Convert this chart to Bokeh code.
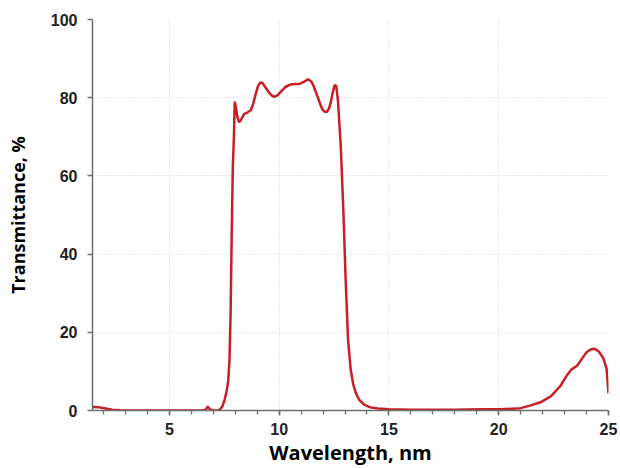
from bokeh.plotting import figure
from bokeh.models import ColumnDataSource, FixedTicker, Range1d
from bokeh.embed import file_html
from bokeh.resources import INLINE

wavelength = [1.5, 1.8, 2.1, 2.4, 2.8, 4.0, 5.5, 6.5, 6.65, 6.75,
              6.85, 7.0, 7.2, 7.31, 7.42, 7.52, 7.61, 7.68, 7.74, 7.79,
              7.84, 7.89, 7.94, 7.98, 8.03, 8.1, 8.18, 8.28, 8.4, 8.55,
              8.71, 8.82, 8.94, 9.04, 9.13, 9.22, 9.31, 9.42, 9.54, 9.66,
              9.77, 9.92, 10.07, 10.3, 10.53, 10.75, 10.91, 11.14, 11.32, 11.47,
              11.57, 11.67, 11.77, 11.86, 11.97, 12.08, 12.18, 12.27, 12.36, 12.43,
              12.53, 12.6, 12.68, 12.81, 12.93, 13.03, 13.14, 13.26, 13.37, 13.49,
              13.65, 13.87, 14.15, 14.5, 15.0, 16.0, 17.0, 18.0, 19.2, 20.1,
              21.0, 21.46, 21.9, 22.37, 22.8, 23.12, 23.3, 23.58, 23.81, 24.0,
              24.18, 24.36, 24.56, 24.76, 24.91, 25.0]
transmittance = [0.9, 0.8, 0.5, 0.2, 0.05, 0, 0, 0, 0.2, 1.0,
                 0.3, 0, 0, 0.3, 1.1, 2.8, 5.0, 7.5, 13, 25,
                 45, 62, 70, 79, 77.5, 75, 73.7, 74.5, 75.8, 76.2,
                 76.8, 78.5, 81.1, 83, 83.8, 83.9, 83.2, 82.3, 81.3, 80.6,
                 80.2, 80.6, 81.5, 82.8, 83.4, 83.5, 83.5, 84.1, 84.7, 84.1,
                 83, 81.5, 80, 78.5, 77, 76.4, 76.4, 77.2, 79, 81.1,
                 83.2, 83, 79.2, 67.3, 50.3, 33.3, 18, 10.4, 6.8, 4.5,
                 2.7, 1.5, 0.8, 0.5, 0.3, 0.2, 0.2, 0.2, 0.3, 0.3,
                 0.6, 1.3, 2.1, 3.6, 6.2, 9.1, 10.4, 11.5, 13.4, 14.9,
                 15.6, 15.8, 15.1, 13.4, 10.8, 4.4]
x_ticks = [5, 10, 15, 20, 25]
y_ticks = [0, 20, 40, 60, 80, 100]

source = ColumnDataSource(data=dict(x=wavelength, y=transmittance))

p = figure(width=620, height=468, output_backend="svg", toolbar_location=None,
           x_range=Range1d(1.5, 25), y_range=Range1d(0, 100),
           min_border_left=92, min_border_right=12, min_border_top=19,
           min_border_bottom=58)
p.outline_line_color = None
p.background_fill_color = "white"

p.line("x", "y", source=source, line_color="#c81e25", line_width=2.5)

p.xaxis.ticker = FixedTicker(ticks=x_ticks, minor_ticks=list(range(2, 26)))
p.yaxis.ticker = FixedTicker(ticks=y_ticks)

for ax in (p.xaxis[0], p.yaxis[0]):
    ax.axis_line_color = "#6e6e6e"
    ax.axis_line_width = 1.5
    ax.major_tick_line_color = "#6e6e6e"
    ax.major_tick_line_width = 1.5
    ax.major_tick_in = 0
    ax.major_tick_out = 5
    ax.major_label_text_font = "Liberation Sans"
    ax.major_label_text_font_style = "bold"
    ax.major_label_text_font_size = "16px"
    ax.major_label_text_color = "#222222"
    ax.axis_label_text_font = "Open Sans"
    ax.axis_label_text_font_style = "bold"
    ax.axis_label_text_color = "#000000"

p.xaxis.axis_label_text_font_size = "20px"
p.yaxis.axis_label_text_font_size = "18px"

p.xaxis.minor_tick_line_color = "#6e6e6e"
p.xaxis.minor_tick_line_width = 1.3
p.xaxis.minor_tick_in = 0
p.xaxis.minor_tick_out = 4
p.yaxis.minor_tick_line_color = None

p.xaxis.axis_label = "Wavelength, nm"
p.yaxis.axis_label = "Transmittance, %"
p.xaxis.major_label_standoff = 7
p.xaxis.axis_label_standoff = 1
p.yaxis.major_label_standoff = 10
p.yaxis.axis_label_standoff = 18

p.xgrid.ticker = FixedTicker(ticks=x_ticks)
p.ygrid.ticker = FixedTicker(ticks=y_ticks)
for g in (p.xgrid[0], p.ygrid[0]):
    g.grid_line_color = "#cfcfcf"
    g.grid_line_dash = "1 2"
    g.grid_line_width = 1

open("out.html", "w").write(file_html(p, INLINE))
